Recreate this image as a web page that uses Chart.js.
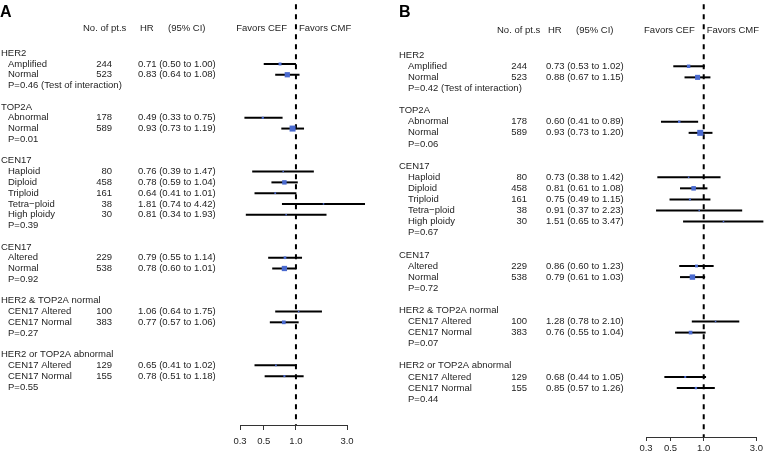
<!DOCTYPE html>
<html>
<head>
<meta charset="utf-8">
<script src="https://cdn.jsdelivr.net/npm/chart.js@4"></script>
<style>
  html, body { margin: 0; padding: 0; background: #fff; }
  #wrap { position: relative; width: 765px; height: 463px; overflow: hidden; }
  canvas { position: absolute; top: 0; }
  #chartA { left: 0; }
  #chartB { left: 382px; }
</style>
</head>
<body>
<div id="wrap">
  <canvas id="chartA" width="382" height="463"></canvas>
  <canvas id="chartB" width="383" height="463"></canvas>
</div>
<script>
// subgroup table (same for both panels)
const groupNames = ["HER2", "TOP2A", "CEN17", "CEN17", "HER2 & TOP2A normal", "HER2 or TOP2A abnormal"];
const subgroupNames = [
  ["Amplified", "Normal"],
  ["Abnormal", "Normal"],
  ["Haploid", "Diploid", "Triploid", "Tetra\u2212ploid", "High ploidy"],
  ["Altered", "Normal"],
  ["CEN17 Altered", "CEN17 Normal"],
  ["CEN17 Altered", "CEN17 Normal"]
];
const patients = [244, 523, 178, 589, 80, 458, 161, 38, 30, 229, 538, 100, 383, 129, 155];

// panel A
const hrA    = [0.71, 0.83, 0.49, 0.93, 0.76, 0.78, 0.64, 1.81, 0.81, 0.79, 0.78, 1.06, 0.77, 0.65, 0.78];
const lowerA = [0.50, 0.64, 0.33, 0.73, 0.39, 0.59, 0.41, 0.74, 0.34, 0.55, 0.60, 0.64, 0.57, 0.41, 0.51];
const upperA = [1.00, 1.08, 0.75, 1.19, 1.47, 1.04, 1.01, 4.42, 1.93, 1.14, 1.01, 1.75, 1.06, 1.02, 1.18];
const pValuesA = ["0.46", "0.01", "0.39", "0.92", "0.27", "0.55"];

// panel B
const hrB    = [0.73, 0.88, 0.60, 0.93, 0.73, 0.81, 0.75, 0.91, 1.51, 0.86, 0.79, 1.28, 0.76, 0.68, 0.85];
const lowerB = [0.53, 0.67, 0.41, 0.73, 0.38, 0.61, 0.49, 0.37, 0.65, 0.60, 0.61, 0.78, 0.55, 0.44, 0.57];
const upperB = [1.02, 1.15, 0.89, 1.20, 1.42, 1.08, 1.15, 2.23, 3.47, 1.23, 1.03, 2.10, 1.04, 1.05, 1.26];
const pValuesB = ["0.42", "0.06", "0.67", "0.72", "0.07", "0.44"];

const tickValues = [0.3, 0.5, 1.0, 3.0];
const tickLabels = ["0.3", "0.5", "1.0", "3.0"];

const FONT = '"Liberation Sans", Arial, sans-serif';
const TEXT = "#1e1e1e";
const BLUE = "#4a6acf";

function buildRows(hr, lower, upper, pvals) {
  const labels = [];
  const items = [];
  let r = 0, k = 0;
  groupNames.forEach((g, gi) => {
    labels.push({ row: r, text: g, indent: false });
    r++;
    subgroupNames[gi].forEach(s => {
      items.push({ row: r, text: s, n: patients[k], hr: hr[k], lo: lower[k], up: upper[k] });
      k++; r++;
    });
    labels.push({ row: r, text: "P=" + pvals[gi] + (gi === 0 ? " (Test of interaction)" : ""), indent: true });
    r += 2;
  });
  return { labels, items };
}

function makeTablePlugin(p, rows) {
  return {
    id: "table" + p.letter,
    afterDraw(chart) {
      const ctx = chart.ctx;
      const y = v => chart.scales.y.getPixelForValue(v);
      const x1 = chart.scales.x.getPixelForValue(1);
      ctx.save();
      ctx.fillStyle = "#000";
      ctx.font = "bold 16px " + FONT;
      ctx.textBaseline = "alphabetic";
      ctx.textAlign = "left";
      ctx.fillText(p.letter, p.letterX, 17);

      ctx.fillStyle = TEXT;
      ctx.font = "9.5px " + FONT;
      ctx.textBaseline = "middle";
      const hy = y(p.headerRow);
      ctx.fillText("No. of pt.s", p.hdrN, hy);
      ctx.fillText("HR", p.hdrHR, hy);
      ctx.fillText("(95% CI)", p.hdrCI, hy);
      ctx.textAlign = "right";
      ctx.fillText("Favors CEF", x1 - 9, hy);
      ctx.textAlign = "left";
      ctx.fillText("Favors CMF", x1 + 3, hy);

      rows.labels.forEach(l => {
        ctx.fillText(l.text, l.indent ? p.colItem : p.colGroup, y(l.row));
      });
      rows.items.forEach(it => {
        const yy = y(it.row);
        ctx.textAlign = "left";
        ctx.fillText(it.text, p.colItem, yy);
        ctx.fillText(it.hr.toFixed(2) + " (" + it.lo.toFixed(2) + " to " + it.up.toFixed(2) + ")", p.colHR, yy);
        ctx.textAlign = "right";
        ctx.fillText(String(it.n), p.colN, yy);
      });
      ctx.restore();
    }
  };
}

function drawPanel(p) {
  const rows = buildRows(p.hr, p.lower, p.upper, p.pvals);
  // box size from precision of the estimate (log-scale CI width)
  const info = rows.items.map(it => 1 / Math.pow(Math.log(it.up / it.lo), 2));
  const maxInfo = Math.max(...info);
  const sides = info.map(v => Math.max(1.5, 6 * v / maxInfo));

  const datasets = [];
  datasets.push({
    data: [{ x: 1, y: p.yMin }, { x: 1, y: p.yMax }],
    showLine: true, borderColor: "#000", borderWidth: 2, borderDash: [5, 5],
    pointRadius: 0, clip: false, order: 3
  });
  rows.items.forEach(it => {
    datasets.push({
      data: [{ x: it.lo, y: it.row }, { x: it.up, y: it.row }],
      showLine: true, borderColor: "#000", borderWidth: 2,
      pointRadius: 0, clip: false, order: 2
    });
  });
  datasets.push({
    data: rows.items.map(it => ({ x: it.hr, y: it.row })),
    pointStyle: "rect",
    pointRadius: ctx => sides[ctx.dataIndex] / Math.SQRT2,
    backgroundColor: BLUE, borderWidth: 0,
    clip: false, order: 0
  });

  new Chart(document.getElementById(p.id), {
    type: "scatter",
    data: { datasets },
    options: {
      responsive: false,
      animation: false,
      events: [],
      layout: { padding: { left: p.left, right: p.right, top: p.top, bottom: p.bottom } },
      plugins: { legend: { display: false }, tooltip: { enabled: false } },
      elements: { line: { tension: 0 } },
      scales: {
        x: {
          type: "logarithmic",
          min: 0.3, max: 3,
          afterBuildTicks: scale => { scale.ticks = tickValues.map(v => ({ value: v })); },
          afterFit: scale => { scale.height = 20; },
          ticks: {
            callback: (v, i) => tickLabels[i],
            autoSkip: false, maxRotation: 0,
            color: TEXT, padding: p.tickPad,
            font: { family: FONT, size: 9.5 }
          },
          grid: { drawOnChartArea: false, drawTicks: true, tickLength: p.tickLen, color: "#333", lineWidth: 1 },
          border: { display: true, color: "#333", width: 1 }
        },
        y: {
          type: "linear", reverse: true, display: false,
          min: p.yMin, max: p.yMax
        }
      }
    },
    plugins: [makeTablePlugin(p, rows)]
  });
}

drawPanel({
  id: "chartA", letter: "A", letterX: 0,
  hr: hrA, lower: lowerA, upper: upperA, pvals: pValuesA,
  left: 240, right: 35, top: 4, bottom: 18,
  yMin: -4.55, yMax: 34.54, headerRow: -2.32,
  tickLen: 5, tickPad: 6,
  colGroup: 1, colItem: 8, colN: 112, colHR: 138,
  hdrN: 83, hdrHR: 140, hdrCI: 168
});

drawPanel({
  id: "chartB", letter: "B", letterX: 17,
  hr: hrB, lower: lowerB, upper: upperB, pvals: pValuesB,
  left: 264, right: 8, top: 4, bottom: 6,
  yMin: -4.59, yMax: 34.41, headerRow: -2.25,
  tickLen: 4, tickPad: 2,
  colGroup: 17, colItem: 26, colN: 145, colHR: 164,
  hdrN: 115, hdrHR: 166, hdrCI: 194
});
</script>
</body>
</html>
